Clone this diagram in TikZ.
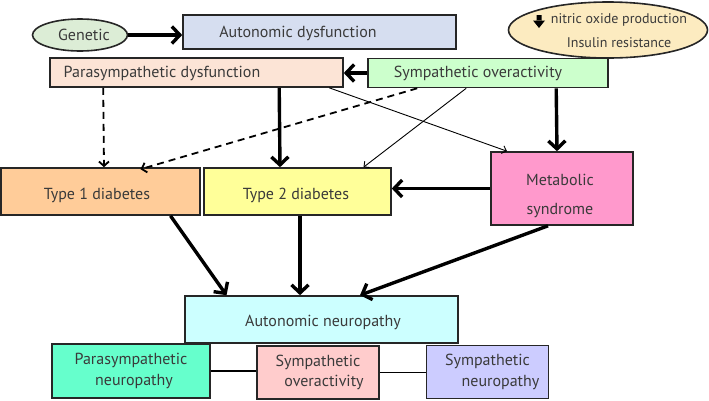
\documentclass[tikz,border=0pt]{standalone}
\usepackage{fontspec}
\setmainfont{PT Sans}
\usetikzlibrary{arrows.meta,shapes.geometric}
\definecolor{txt}{HTML}{3A3A3A}
\definecolor{cgen}{HTML}{DCEDD6}
\definecolor{cautdys}{HTML}{D6DEF0}
\definecolor{cnit}{HTML}{FCEBC0}
\definecolor{cparadys}{HTML}{FCE4D6}
\definecolor{csympover}{HTML}{CCFFCC}
\definecolor{ctypeone}{HTML}{FFCC99}
\definecolor{ctypetwo}{HTML}{FFFF99}
\definecolor{cmetab}{HTML}{FF99CC}
\definecolor{cautneu}{HTML}{CCFFFF}
\definecolor{cparaneu}{HTML}{66FFCC}
\definecolor{csympov}{HTML}{FFCCCC}
\definecolor{csympneu}{HTML}{CCCCFF}
\begin{document}
\begin{tikzpicture}[x=1pt,y=-1pt,
  box/.style={draw=black!85, line width=1.6pt, rectangle, inner sep=0pt, text=txt,
    font=\fontsize{16}{20.5}\selectfont, align=center},
  ell/.style={box, ellipse},
  lbl/.style={inner sep=0pt, text=txt, font=\fontsize{16}{20}\selectfont, align=center},
  small/.style={lbl, font=\fontsize{14}{20}\selectfont},
  bigarr/.style={line width=3.4pt, -{Straight Barb[length=8pt,width=17pt]}},
  thinarr/.style={line width=0.9pt, -{Straight Barb[length=4pt,width=8pt]}},
  dasharr/.style={line width=1.8pt, dash pattern=on 7pt off 5pt, -{Straight Barb[length=4.5pt,width=10pt]}},
  plain/.style={line width=1.3pt}
]
\useasboundingbox (0,0) rectangle (709,400);

% top row
\node[ell, fill=cgen, minimum width=95pt, minimum height=32pt] (gen) at (80,35) {};
\node[lbl] (genT) at (84,35) {Genetic};
\node[box, fill=cautdys, minimum width=273pt, minimum height=34pt] (autdys) at (319.5,32) {};
\node[lbl] (autdysT) at (298,33) {Autonomic dysfunction};
\node[ell, fill=cnit, minimum width=199pt, minimum height=56pt] (nit) at (608,30) {};
\node[small, anchor=base] (nitA) at (619,23) {nitric oxide production};
\node[small, anchor=base] (nitB) at (619,47) {Insulin resistance};
\fill[black] (536.5,15) rectangle (541.5,21) (533,20.5) -- (545,20.5) -- (539,28) -- cycle;

% second row
\node[box, fill=cparadys, minimum width=293pt, minimum height=29pt] (paradys) at (196.5,72.5) {};
\node[lbl] (paradysT) at (162,73) {Parasympathetic dysfunction};
\node[box, fill=csympover, minimum width=240pt, minimum height=29pt] (sympover) at (488,73) {};
\node[lbl] (sympoverT) at (478,73) {Sympathetic overactivity};

% third row
\node[box, fill=ctypeone, minimum width=199pt, minimum height=47pt] (type1) at (100.5,191.5) {};
\node[lbl] (type1T) at (97,195) {Type 1 diabetes};
\node[box, fill=ctypetwo, minimum width=187pt, minimum height=47pt] (type2) at (297.5,191.5) {};
\node[lbl] (type2T) at (296,195) {Type 2 diabetes};
\node[box, fill=cmetab, minimum width=142pt, minimum height=73pt] (metab) at (562,188.5) {};
\node[lbl, anchor=base] (metabA) at (560,185) {Metabolic};
\node[lbl, anchor=base] (metabB) at (560,214) {syndrome};

% bottom
\node[box, fill=cautneu, minimum width=273pt, minimum height=47pt] (autneu) at (321.5,319.5) {};
\node[lbl] (autneuT) at (323,322) {Autonomic neuropathy};
\node[box, fill=cparaneu, minimum width=158pt, minimum height=54pt] (paraneu) at (131,371) {Parasympathetic\\\hspace*{6pt}neuropathy};
\node[box, fill=csympov, minimum width=122pt, minimum height=53pt] (sympov) at (318,372.5) {Sympathetic\\\hspace*{12pt}overactivity};
\node[box, fill=csympneu, minimum width=122pt, minimum height=53pt] (sympneu) at (487.5,372) {Sympathetic\\\hspace*{26pt}neuropathy};

% connectors
\draw[bigarr] (gen.east) -- (gen.east -| autdys.west);
\draw[bigarr] (sympover.west) -- (sympover.west -| paradys.east);
\draw[dasharr] ([xshift=54pt]paradys.south west) -- ([xshift=3.5pt]type1.north);
\draw[dasharr] ([xshift=50pt]sympover.south west) -- ([xshift=40pt,yshift=-2pt]type1.north);
\draw[bigarr] ([xshift=230pt]paradys.south west) -- ([xshift=-17.5pt]type2.north);
\draw[thinarr] ([xshift=280pt]paradys.south west) -- ([xshift=-55pt]metab.north);
\draw[thinarr] ([xshift=99pt]sympover.south west) -- ([xshift=66pt]type2.north);
\draw[bigarr] ([xshift=189pt]sympover.south west) -- ([xshift=-5pt]metab.north);
\draw[bigarr] (metab.west) -- (metab.west -| type2.east);
\draw[bigarr] ([xshift=70pt]type1.south) -- ([xshift=-95pt]autneu.north);
\draw[bigarr] ([xshift=2.5pt]type2.south) -- ([xshift=-21.5pt]autneu.north);
\draw[bigarr] ([xshift=-14pt]metab.south) -- ([xshift=38.5pt]autneu.north);
\draw[plain] (paraneu.east) -- (paraneu.east -| sympov.west);
\draw[plain] (sympov.east) -- (sympov.east -| sympneu.west);
\end{tikzpicture}
\end{document}
